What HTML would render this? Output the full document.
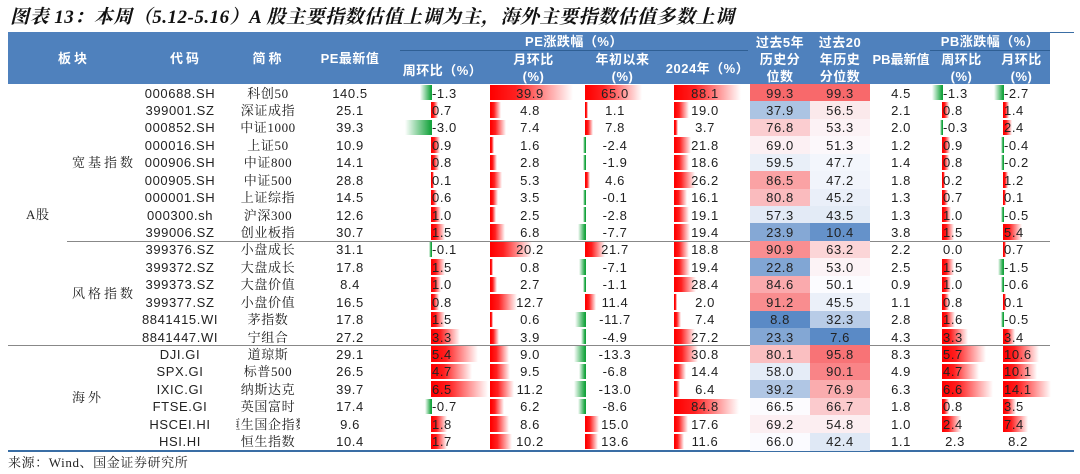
<!DOCTYPE html>
<html><head><meta charset="utf-8">
<style>
body{margin:0;background:#fff;width:1080px;height:474px;overflow:hidden;position:relative;font-family:"Liberation Sans","Noto Sans CJK SC",sans-serif;}
.a{position:absolute;white-space:nowrap;}
#title{left:10px;top:2px;font-family:"Liberation Serif","Noto Serif CJK SC",serif;font-size:19px;font-weight:bold;font-style:italic;color:#111;letter-spacing:0.5px;}
#hdr{left:8px;top:32px;width:1042px;height:52px;background:#4f81bd;}
.h{position:absolute;color:#fff;font-weight:bold;font-size:13px;text-align:center;line-height:17px;font-family:"Liberation Sans","Noto Sans CJK SC",sans-serif;letter-spacing:0.5px;white-space:nowrap;}
.c{position:absolute;font-size:13px;line-height:17px;color:#222;white-space:nowrap;letter-spacing:0.6px;}
.zh{font-family:"Liberation Serif","Noto Serif CJK SC",serif;}
</style></head>
<body>
<div id="title" class="a">图表 13：本周（5.12-5.16）A 股主要指数估值上调为主，海外主要指数估值多数上调</div>
<div class="a" style="left:8px;top:32px;width:1066px;height:1px;background:#3a6ea5"></div>
<div id="hdr" class="a"></div>
<div class="h" style="left:8px;top:50px;width:132px;letter-spacing:3px">板块</div>
<div class="h" style="left:140px;top:50px;width:92px;letter-spacing:3px">代码</div>
<div class="h" style="left:232px;top:50px;width:73px;letter-spacing:3px">简称</div>
<div class="h" style="left:305px;top:50px;width:90px">PE最新值</div>
<div class="h" style="left:398px;top:33px;width:352px">PE涨跌幅（%）</div>
<div class="a" style="left:400px;top:50px;width:348px;height:1px;background:#2f5f94"></div>
<div class="h" style="left:398px;top:62px;width:89px">周环比（%）</div>
<div class="h" style="left:487px;top:51px;width:93px">月环比<br>(%)</div>
<div class="h" style="left:580px;top:51px;width:85px">年初以来<br>(%)</div>
<div class="h" style="left:665px;top:60px;width:85px">2024年（%）</div>
<div class="h" style="left:750px;top:34px;width:60px">过去5年<br>历史分<br>位数</div>
<div class="h" style="left:810px;top:34px;width:60px">过去20<br>年历史<br>分位数</div>
<div class="h" style="left:870px;top:51px;width:62px;letter-spacing:0">PB最新值</div>
<div class="h" style="left:930px;top:33px;width:120px">PB涨跌幅（%）</div>
<div class="a" style="left:930px;top:50px;width:120px;height:1px;background:#2f5f94"></div>
<div class="h" style="left:930px;top:51px;width:63px">周环比<br>(%)</div>
<div class="h" style="left:993px;top:51px;width:57px">月环比<br>(%)</div>

<div class="c zh" style="left:26px;top:206px">A股</div>
<div class="c zh" style="left:72px;top:154px;letter-spacing:3px">宽基指数</div>
<div class="c zh" style="left:72px;top:285px;letter-spacing:3px">风格指数</div>
<div class="c zh" style="left:72px;top:389px;letter-spacing:3px">海外</div>
<div class="a" style="left:67px;top:241px;width:983px;height:1px;background:#888"></div>
<div class="a" style="left:8px;top:345px;width:1042px;height:1px;background:#888"></div>
<div class="a" style="left:8px;top:450px;width:1066px;height:2px;background:#3a6ea5"></div>
<div class="c zh" style="left:8px;top:454px">来源：Wind、国金证券研究所</div>

<div id="rows"></div>
<script>
const codes=["000688.SH","399001.SZ","000852.SH","000016.SH","000906.SH","000905.SH","000001.SH","000300.sh","399006.SZ","399376.SZ","399372.SZ","399373.SZ","399377.SZ","8841415.WI","8841447.WI","DJI.GI","SPX.GI","IXIC.GI","FTSE.GI","HSCEI.HI","HSI.HI"];
const names=["科创50","深证成指","中证1000","上证50","中证800","中证500","上证综指","沪深300","创业板指","小盘成长","大盘成长","大盘价值","小盘价值","茅指数","宁组合","道琼斯","标普500","纳斯达克","英国富时","恒生国企指数","恒生指数"];
const peLatest=[140.5,25.1,39.3,10.9,14.1,28.8,14.5,12.6,30.7,31.1,17.8,8.4,16.5,17.8,27.2,29.1,26.5,39.7,17.4,9.6,10.4];
const peWeek=[-1.3,0.7,-3.0,0.9,0.8,0.1,0.6,1.0,1.5,-0.1,1.5,1.0,0.8,1.5,3.3,5.4,4.7,6.5,-0.7,1.8,1.7];
const peMonth=[39.9,4.8,7.4,1.6,2.8,5.3,3.5,2.5,6.8,20.2,0.8,2.7,12.7,0.6,3.9,9.0,9.5,11.2,6.2,8.6,10.2];
const peYtd=[65.0,1.1,7.8,-2.4,-1.9,4.6,-0.1,-2.8,-7.7,21.7,-7.1,-1.1,11.4,-11.7,-4.9,-13.3,-6.8,-13.0,-8.6,15.0,13.6];
const pe2024=[88.1,19.0,3.7,21.8,18.6,26.2,16.1,19.1,19.4,18.8,19.4,28.4,2.0,7.4,27.2,30.8,14.4,6.4,84.8,17.6,11.6];
const pct5y=[99.3,37.9,76.8,69.0,59.5,86.5,80.8,57.3,23.9,90.9,22.8,84.6,91.2,8.8,23.3,80.1,58.0,39.2,66.5,69.2,66.0];
const pct20y=[99.3,56.5,53.3,51.3,47.7,47.2,45.2,43.5,10.4,63.2,53.0,50.1,45.5,32.3,7.6,95.8,90.1,76.9,66.7,54.8,42.4];
const pbLatest=[4.5,2.1,2.0,1.2,1.4,1.8,1.3,1.3,3.8,2.2,2.5,0.9,1.1,2.8,4.3,8.3,4.9,6.3,1.8,1.0,1.1];
const pbWeek=[-1.3,0.8,-0.3,0.9,0.8,0.2,0.7,1.0,1.5,0.0,1.5,1.0,0.8,1.6,3.3,5.7,4.7,6.6,0.8,2.4,2.3];
const pbMonth=[-2.7,1.4,2.4,-0.4,-0.2,1.2,0.1,-0.5,5.4,0.7,-1.5,-0.6,0.1,-0.5,3.4,10.6,10.1,14.1,3.5,7.4,8.2];

const TOP=84, RH=17.43;
const root=document.getElementById('rows');
function yOf(i){return TOP+i*RH;}
function mk(cls,x,y,w,text,align){
  const d=document.createElement('div');
  d.className=cls;
  d.style.left=x+'px';d.style.top=(y)+'px';d.style.width=w+'px';d.style.overflow='hidden';
  d.style.display='flex';
  d.style.justifyContent=(align==='left')?'flex-start':'center';
  const s=document.createElement('span');
  s.style.flexShrink='0';
  s.textContent=text;d.appendChild(s);
  root.appendChild(d);return d;
}
function bar(axis,scale,v,y){
  if(v===0)return;
  const w=Math.max(2,Math.abs(v)*scale);
  const d=document.createElement('div');
  
  
  d.style.position='absolute';d.style.top=(y+1)+'px';d.style.height=(RH-2)+'px';d.style.width=w+'px';
  if(v>0){d.style.left=axis+'px';d.style.background='linear-gradient(to right,#ff0000,#ff2020 30%,#fff)';d.style.borderLeft='1px solid #ff0000';}
  else{d.style.left=(axis-w)+'px';d.style.background='linear-gradient(to left,#14a33c,#fff)';d.style.borderRight='1px solid #14a33c';}
  root.appendChild(d);
}
function heat(v,mid,min,max){
  const W=[252,252,255],R=[248,105,107],B=[90,138,198];
  let t,c;
  if(v>=mid){t=(v-mid)/(max-mid);c=R;}else{t=(mid-v)/(mid-min);c=B;}
  const m=W.map((w,k)=>Math.round(w+(c[k]-w)*t));
  return 'rgb('+m.join(',')+')';
}
const min5=Math.min(...pct5y),max5=Math.max(...pct5y),min20=Math.min(...pct20y),max20=Math.max(...pct20y);
for(let i=0;i<codes.length;i++){
  const y=yOf(i);
  const h5=document.createElement('div');
  
  
  h5.style.cssText='position:absolute;left:750px;width:60px;top:'+y+'px;height:'+(RH+0.5)+'px;background:'+heat(pct5y[i],66.3,min5,max5);
  root.appendChild(h5);
  const h20=document.createElement('div');
  
  
  h20.style.cssText='position:absolute;left:810px;width:60px;top:'+y+'px;height:'+(RH+0.5)+'px;background:'+heat(pct20y[i],50,min20,max20);
  root.appendChild(h20);
  bar(431,8.6,peWeek[i],y);
  bar(490,2.05,peMonth[i],y);
  bar(585,0.86,peYtd[i],y);
  bar(674,0.75,pe2024[i],y);
  if(i<20){bar(942,7.6,pbWeek[i],y);bar(1003,3.3,pbMonth[i],y);}
  const ty=y+0.5;
  let e;
  e=mk('c',140,ty,80,codes[i]);
  
  
  e=mk('c zh',236,ty,64,names[i]);
  
  
  e=mk('c',305,ty,90,peLatest[i].toFixed(1));
  
  
  e=mk('c',432,ty,50,peWeek[i].toFixed(1),'left');
  
  
  e=mk('c',490,ty,80,peMonth[i].toFixed(1));
  
  
  e=mk('c',580,ty,70,peYtd[i].toFixed(1));
  
  
  e=mk('c',665,ty,80,pe2024[i].toFixed(1));
  
  
  e=mk('c',750,ty,60,pct5y[i].toFixed(1));
  
  
  e=mk('c',810,ty,60,pct20y[i].toFixed(1));
  
  
  e=mk('c',870,ty,62,pbLatest[i].toFixed(1));
  
  
  e=mk('c',i<20?943:930,ty,50,pbWeek[i].toFixed(1),i<20?'left':'center');
  
  
  e=mk('c',i<20?1004:993,ty,50,pbMonth[i].toFixed(1),i<20?'left':'center');
  
  
}
</script>
</body></html>
